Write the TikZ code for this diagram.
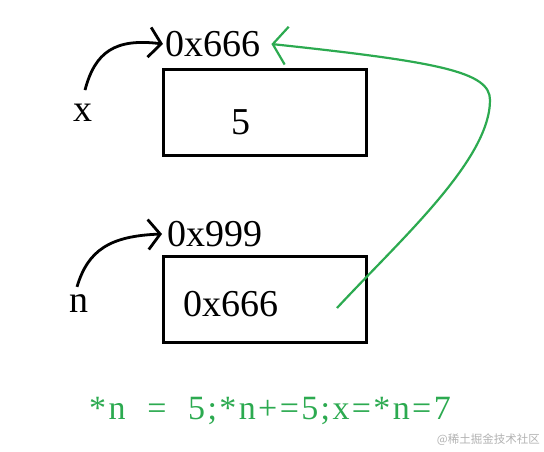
\documentclass[tikz,border=0pt]{standalone}
\usepackage{fontspec}
\setmainfont{Liberation Serif}
\newfontfamily\codefont[LetterSpace=7]{Liberation Serif}
\newfontfamily\cjk{Noto Sans CJK SC}
\usetikzlibrary{arrows.meta,positioning}

\definecolor{ptrgreen}{RGB}{44,170,80}

\begin{document}
\begin{tikzpicture}[
                x=1pt,y=-1pt,
                every node/.append style={inner sep=0pt,font=\fontsize{38}{44}\selectfont},
                cell/.style={draw,line width=3pt,minimum width=203pt,minimum height=86pt},
                ptr/.style={line width=2.8pt,-{Straight Barb[length=12pt,width=30pt]}},
                back/.style={ptrgreen,line width=2.2pt,-{Straight Barb[length=14pt,width=38pt]}}
            ]
                \useasboundingbox (0,0) rectangle (544,451);
                \node (boxx) [cell] at (265,112) {};
                \node (valx) at (241,122) {5};
                \node (addrx) [anchor=west] at (165,44) {0x666};
                \node (labx) at (83,113) {x};
                \node (boxn) [cell] at (265,299) {};
                \node (valn) at (231,304) {0x666};
                \node (addrn) [anchor=west] at (167,234) {0x999};
                \node (labn) at (79,304) {n};
                \coordinate (gstart) at (337,308);
                \draw[ptr] ([xshift=2pt,yshift=14pt]labx.north) .. controls (95,52) and (115,38) .. ([xshift=-2pt]addrx.west);
                \draw[ptr] ([xshift=-2pt,yshift=8pt]labn.north) .. controls (88,250) and (110,236) .. ([xshift=-5pt]addrn.west);
                \draw[back] (gstart) .. controls (400,240) and (490,160) .. (490,100)
                    .. controls (490,72) and (440,62) .. ([xshift=11pt]addrx.east);
                \node (code) [ptrgreen,font=\codefont\fontsize{34}{40}\selectfont] at (270,411) {*n\ \ =\ \ 5;*n+=5;x=*n=7};
                \node (mark) [black!30,font=\cjk\fontsize{11.5}{14}\selectfont,anchor=east] at (540,440) {@稀土掘金技术社区};
            \end{tikzpicture}
\end{document}
